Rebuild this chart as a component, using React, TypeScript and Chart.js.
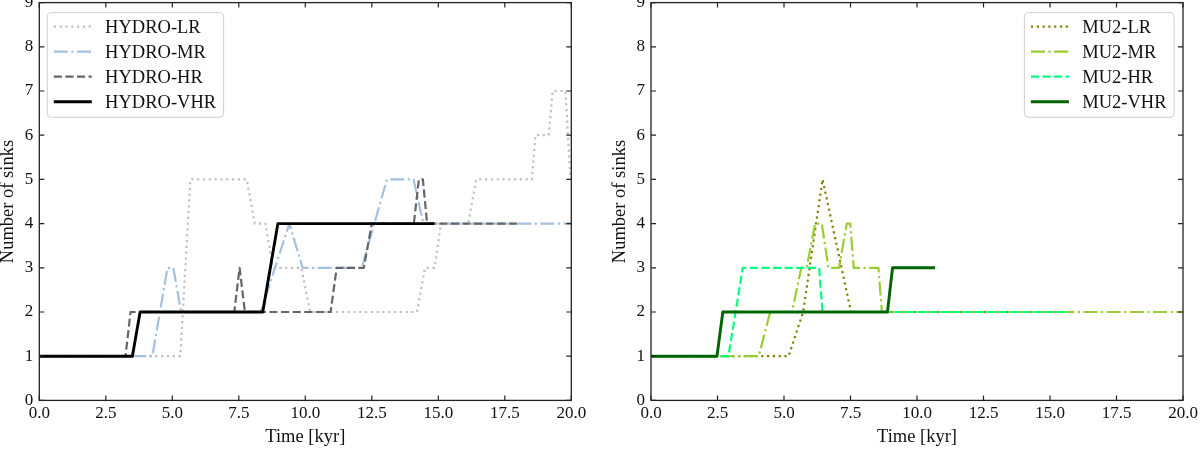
import React, { useEffect, useRef } from "react";
import { Chart, registerables } from "chart.js";

Chart.register(...registerables);

// ---------- data ----------
const xTickValues = [0, 2.5, 5, 7.5, 10, 12.5, 15, 17.5, 20];
const xTickLabels = ["0.0", "2.5", "5.0", "7.5", "10.0", "12.5", "15.0", "17.5", "20.0"];
const yTickValues = [0, 1, 2, 3, 4, 5, 6, 7, 8, 9];
const yTickLabels = ["0", "1", "2", "3", "4", "5", "6", "7", "8", "9"];

const xTitle = "Time [kyr]";
const yTitle = "Number of sinks";

// left panel
const hydroLabels = ["HYDRO-LR", "HYDRO-MR", "HYDRO-HR", "HYDRO-VHR"];
const hydroLrTime = [0, 5.3, 5.68, 7.8, 8.1, 8.5, 8.78, 9.85, 10.18, 14.2, 14.5, 14.86, 15.1, 16.12, 16.43, 18.52, 18.65, 19.15, 19.3, 19.78, 19.97];
const hydroLrSinks = [1, 1, 5, 5, 4, 4, 3, 3, 2, 2, 3, 3, 4, 4, 5, 5, 6, 6, 7, 7, 5];
const hydroMrTime = [0, 4.25, 4.82, 5.04, 5.33, 8.32, 9.4, 9.9, 12.12, 13.07, 14.07, 14.44, 20];
const hydroMrSinks = [1, 1, 3, 3, 2, 2, 4, 3, 3, 5, 5, 4, 4];
const hydroHrTime = [0, 3.24, 3.43, 7.33, 7.53, 7.73, 10.95, 11.18, 12.2, 12.5, 14.08, 14.27, 14.42, 14.58, 18.02];
const hydroHrSinks = [1, 1, 2, 2, 3, 2, 2, 3, 3, 4, 4, 5, 5, 4, 4];
const hydroVhrTime = [0, 3.5, 3.79, 8.4, 8.97, 14.85];
const hydroVhrSinks = [1, 1, 2, 2, 4, 4];

// right panel
const mu2Labels = ["MU2-LR", "MU2-MR", "MU2-HR", "MU2-VHR"];
const mu2LrTime = [0, 5.17, 5.72, 6.45, 7.52, 15.5];
const mu2LrSinks = [1, 1, 2, 5, 2, 2];
const mu2MrTime = [0, 4.05, 4.48, 5.3, 5.65, 5.85, 6.17, 6.42, 6.67, 7.07, 7.36, 7.49, 7.62, 8.55, 8.68, 20];
const mu2MrSinks = [1, 1, 2, 2, 3, 3, 4, 4, 3, 3, 4, 4, 3, 3, 2, 2];
const mu2HrTime = [0, 2.91, 3.45, 6.32, 6.45, 15.57];
const mu2HrSinks = [1, 1, 3, 3, 2, 2];
const mu2VhrTime = [0, 2.48, 2.7, 8.89, 9.08, 10.68];
const mu2VhrSinks = [1, 1, 2, 2, 3, 3];

// ---------- styles ----------
const FONT = '"Liberation Serif", "Times New Roman", serif';
const DOTTED = [2.2, 3.6];
const DASHDOT = [14, 3.5, 2.2, 3.5];
const DASHED = [8.1, 3.5];
const SOLID: number[] = [];

type Series = { label: string; t: number[]; n: number[]; color: string; width: number; dash: number[] };

const hydroSeries: Series[] = [
  { label: hydroLabels[0], t: hydroLrTime, n: hydroLrSinks, color: "#c0c0c0", width: 2.2, dash: DOTTED },
  { label: hydroLabels[1], t: hydroMrTime, n: hydroMrSinks, color: "#a6c0e0", width: 2.2, dash: DASHDOT },
  { label: hydroLabels[2], t: hydroHrTime, n: hydroHrSinks, color: "#666666", width: 2.2, dash: DASHED },
  { label: hydroLabels[3], t: hydroVhrTime, n: hydroVhrSinks, color: "#000000", width: 2.9, dash: SOLID },
];

const mu2Series: Series[] = [
  { label: mu2Labels[0], t: mu2LrTime, n: mu2LrSinks, color: "#808000", width: 2.2, dash: DOTTED },
  { label: mu2Labels[1], t: mu2MrTime, n: mu2MrSinks, color: "#9acd32", width: 2.2, dash: DASHDOT },
  { label: mu2Labels[2], t: mu2HrTime, n: mu2HrSinks, color: "#00ff7f", width: 2.2, dash: DASHED },
  { label: mu2Labels[3], t: mu2VhrTime, n: mu2VhrSinks, color: "#006400", width: 2.9, dash: SOLID },
];

const framePlugin = {
  id: "frameTicks",
  afterDatasetsDraw(chart: any) {
    const { ctx, chartArea: a, scales } = chart;
    const xs = scales.x;
    const ys = scales.y;
    ctx.save();
    ctx.strokeStyle = "#222222";
    ctx.lineWidth = 1.3;
    ctx.setLineDash([]);
    ctx.strokeRect(a.left, a.top, a.right - a.left, a.bottom - a.top);
    ctx.lineWidth = 1.2;
    const L = 5;
    ctx.beginPath();
    xTickValues.forEach((v) => {
      const px = xs.getPixelForValue(v);
      ctx.moveTo(px, a.bottom);
      ctx.lineTo(px, a.bottom - L);
      ctx.moveTo(px, a.top);
      ctx.lineTo(px, a.top + L);
    });
    yTickValues.forEach((v) => {
      const py = ys.getPixelForValue(v);
      ctx.moveTo(a.left, py);
      ctx.lineTo(a.left + L, py);
      ctx.moveTo(a.right, py);
      ctx.lineTo(a.right - L, py);
    });
    ctx.stroke();
    ctx.restore();
  },
};

function makeLegendPlugin(side: "left" | "right") {
  return {
    id: "boxLegend",
    afterDraw(chart: any) {
      const { ctx, chartArea: a } = chart;
      const sets = chart.data.datasets;
      ctx.save();
      ctx.font = `18.5px ${FONT}`;
      let maxW = 0;
      sets.forEach((d: any) => {
        maxW = Math.max(maxW, ctx.measureText(d.label).width);
      });
      const pad = 6.5;
      const lineLen = 38;
      const gap = 13.3;
      const padR = 7.5;
      const w = pad + lineLen + gap + maxW + padR;
      const h = 104.6;
      const x0 = side === "left" ? a.left + 8 : a.right - 9 - w;
      const y0 = a.top + 10.1;
      const r = 4;
      ctx.beginPath();
      ctx.moveTo(x0 + r, y0);
      ctx.lineTo(x0 + w - r, y0);
      ctx.arcTo(x0 + w, y0, x0 + w, y0 + r, r);
      ctx.lineTo(x0 + w, y0 + h - r);
      ctx.arcTo(x0 + w, y0 + h, x0 + w - r, y0 + h, r);
      ctx.lineTo(x0 + r, y0 + h);
      ctx.arcTo(x0, y0 + h, x0, y0 + h - r, r);
      ctx.lineTo(x0, y0 + r);
      ctx.arcTo(x0, y0, x0 + r, y0, r);
      ctx.closePath();
      ctx.fillStyle = "rgba(255,255,255,0.8)";
      ctx.fill();
      ctx.strokeStyle = "#d0d0d0";
      ctx.lineWidth = 1;
      ctx.stroke();
      sets.forEach((d: any, i: number) => {
        const yy = y0 + 14 + i * 25;
        ctx.beginPath();
        ctx.strokeStyle = d.borderColor;
        ctx.lineWidth = d.borderWidth;
        ctx.setLineDash(d.borderDash || []);
        ctx.lineCap = "butt";
        ctx.moveTo(x0 + pad, yy);
        ctx.lineTo(x0 + pad + lineLen, yy);
        ctx.stroke();
        ctx.setLineDash([]);
        ctx.fillStyle = "#111111";
        ctx.textBaseline = "middle";
        ctx.textAlign = "left";
        ctx.fillText(d.label, x0 + pad + lineLen + gap, yy + 1);
      });
      ctx.restore();
    },
  };
}

type PanelProps = {
  left: number;
  series: Series[];
  legendSide: "left" | "right";
  padLeft: number;
  padRight: number;
};

function Panel({ left, series, legendSide, padLeft, padRight }: PanelProps) {
  const ref = useRef<HTMLCanvasElement>(null);
  useEffect(() => {
    if (!ref.current) return;
    const n = series.length;
    const chart = new Chart(ref.current, {
      type: "line",
      data: {
        datasets: series.map((s, i) => ({
          label: s.label,
          data: s.t.map((t, k) => ({ x: t, y: s.n[k] })),
          borderColor: s.color,
          backgroundColor: s.color,
          borderWidth: s.width,
          borderDash: s.dash,
          borderCapStyle: "butt",
          borderJoinStyle: "round",
          pointRadius: 0,
          pointHoverRadius: 0,
          tension: 0,
          fill: false,
          order: n - 1 - i,
        })),
      },
      options: {
        responsive: false,
        animation: false,
        devicePixelRatio: 1,
        events: [],
        layout: { padding: { left: padLeft, right: padRight, top: 2.6, bottom: 0 } },
        plugins: { legend: { display: false }, tooltip: { enabled: false } },
        scales: {
          x: {
            type: "linear",
            min: 0,
            max: 20,
            grid: { display: false, drawTicks: false },
            border: { display: false },
            afterBuildTicks: (s: any) => {
              s.ticks = xTickValues.map((v) => ({ value: v }));
            },
            afterFit: (s: any) => {
              s.height = 49.6;
              s.paddingLeft = 0;
              s.paddingRight = 0;
            },
            ticks: {
              autoSkip: false,
              maxRotation: 0,
              padding: 3,
              color: "#111111",
              font: { family: FONT, size: 17 },
              callback: (_v: any, i: number) => xTickLabels[i],
            },
            title: {
              display: true,
              text: xTitle,
              color: "#111111",
              font: { family: FONT, size: 18.5, lineHeight: 1.2 },
              padding: { top: 0, bottom: 2 },
            },
          },
          y: {
            type: "linear",
            min: 0,
            max: 9,
            grid: { display: false, drawTicks: false },
            border: { display: false },
            afterBuildTicks: (s: any) => {
              s.ticks = yTickValues.map((v) => ({ value: v }));
            },
            afterFit: (s: any) => {
              s.width = 39.3;
              s.paddingTop = 0;
              s.paddingBottom = 0;
            },
            ticks: {
              autoSkip: false,
              padding: 6,
              color: "#111111",
              font: { family: FONT, size: 17 },
              callback: (_v: any, i: number) => yTickLabels[i],
            },
            title: {
              display: true,
              text: yTitle,
              color: "#111111",
              font: { family: FONT, size: 18.5, lineHeight: 0.9 },
              padding: { top: 0, bottom: 0 },
            },
          },
        },
      },
      plugins: [framePlugin, makeLegendPlugin(legendSide)],
    } as any);
    return () => chart.destroy();
  }, []);
  return (
    <canvas
      ref={ref}
      width={600}
      height={450}
      style={{ position: "absolute", left, top: 0, width: 600, height: 450, display: "block" }}
    />
  );
}

export default function App() {
  return (
    <div style={{ position: "absolute", left: 0, top: 0, width: 1200, height: 450, background: "#ffffff" }}>
      <Panel left={0} series={hydroSeries} legendSide="left" padLeft={0} padRight={28.7} />
      <Panel left={600} series={mu2Series} legendSide="right" padLeft={11.7} padRight={17} />
    </div>
  );
}
